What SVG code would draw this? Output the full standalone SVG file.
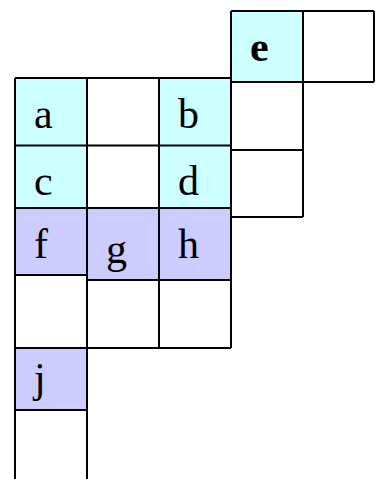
<svg xmlns="http://www.w3.org/2000/svg" width="376" height="479" viewBox="0 0 376 479">
<style>
.cy{fill:#CCFFFF}
.lv{fill:#CCCCFF}
.wh{fill:#FFFFFF}
.ln{stroke:#000;stroke-width:2;fill:none}
.t{font-family:"Liberation Serif","Times New Roman",serif;font-size:42px;fill:#000}
.b{font-weight:bold}
</style>
<rect width="376" height="479" fill="#fff"/>
<g id="cell-e"><rect class="cy" x="231" y="11" width="72" height="71"/><text class="t b" x="250" y="61">e</text></g>
<g id="cell-e2"><rect class="wh" x="303" y="11" width="71" height="71"/></g>
<g id="cell-a"><rect class="cy" x="15" y="78" width="72" height="67"/><text class="t" x="34" y="128">a</text></g>
<g id="cell-a2"><rect class="wh" x="87" y="78" width="72" height="67"/></g>
<g id="cell-b"><rect class="cy" x="159" y="78" width="72" height="67"/><text class="t" x="178" y="128">b</text></g>
<g id="cell-r1"><rect class="wh" x="231" y="82" width="72" height="68"/></g>
<g id="cell-r2"><rect class="wh" x="231" y="150" width="72" height="67"/></g>
<g id="cell-c"><rect class="cy" x="15" y="145" width="72" height="63"/><text class="t" x="34" y="195">c</text></g>
<g id="cell-c2"><rect class="wh" x="87" y="145" width="72" height="63"/></g>
<g id="cell-d"><rect class="cy" x="159" y="145" width="72" height="63"/><text class="t" x="178" y="195">d</text></g>
<g id="cell-f"><rect class="lv" x="15" y="208" width="72" height="67"/><text class="t" x="34" y="258">f</text></g>
<g id="cell-g"><rect class="lv" x="87" y="208" width="72" height="72"/><text class="t" x="106" y="263">g</text></g>
<g id="cell-h"><rect class="lv" x="159" y="208" width="72" height="72"/><text class="t" x="178" y="258">h</text></g>
<g id="cell-j"><rect class="lv" x="15" y="348" width="72" height="62"/><text class="t" x="34" y="392">j</text></g>
<g id="grid">
<path class="ln" d="M231 11H374M231 82H374M15 78H231M15 145.5H231M231 150H303M231 217H303M15 208H231M15 275H87M87 280H231M15 348H231M15 410H87"/>
<path class="ln" d="M15 78V479M87 78V479M159 78V348M231 11V348M303 11V217M374 11V82"/>
</g>
</svg>
